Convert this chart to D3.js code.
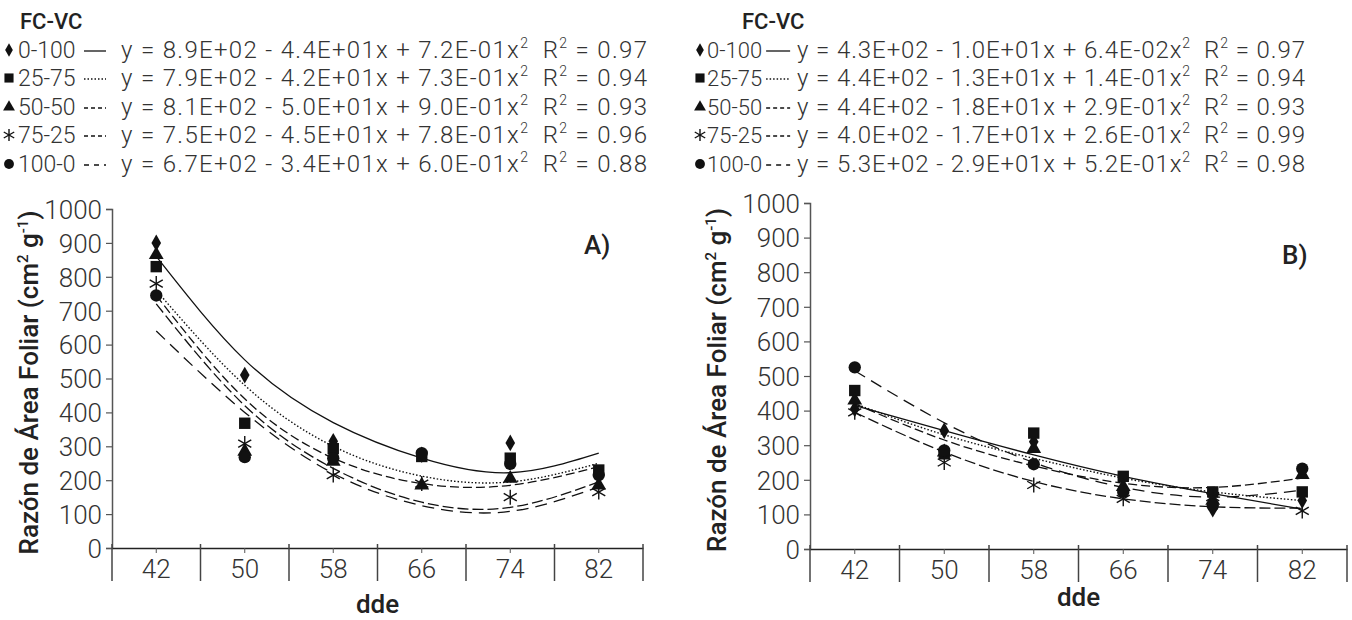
<!DOCTYPE html>
<html><head><meta charset="utf-8">
<script src="https://cdn.jsdelivr.net/npm/d3@7"></script>
<style>
body{margin:0;background:#fff;}
text{font-family:Roboto,"Noto Sans",sans-serif;}
</style></head><body>
<svg id="c" width="1352" height="620"></svg>
<script>
// ---------- DATA ----------
const categories = ["42","50","58","66","74","82"];
const yTicks = [0,100,200,300,400,500,600,700,800,900,1000];
const seriesNames = ["0-100","25-75","50-50","75-25","100-0"];
const markers = ["diamond","square","triangle","asterisk","circle"];

// Panel A observed values
const A_0_100  = [900, 510, 315, 275, 310, 215];
const A_25_75  = [830, 368, 293, 270, 265, 230];
const A_50_50  = [865, 285, 255, 185, 205, 185];
const A_75_25  = [780, 308, 215, 190, 150, 165];
const A_100_0  = [745, 268, 265, 280, 248, 215];
// Panel A trend lines (read at each dde)
const A_fit_0_100 = [860, 555, 370, 265, 222, 280];
const A_fit_25_75 = [760, 480, 300, 212, 195, 250];
const A_fit_50_50 = [745, 440, 265, 190, 185, 240];
const A_fit_75_25 = [720, 420, 235, 135, 120, 195];
const A_fit_100_0 = [640, 400, 220, 125, 108, 180];
const A_eqs = [
  ["y = 8.9E+02 - 4.4E+01x + 7.2E-01x","R","= 0.97"],
  ["y = 7.9E+02 - 4.2E+01x + 7.3E-01x","R","= 0.94"],
  ["y = 8.1E+02 - 5.0E+01x + 9.0E-01x","R","= 0.93"],
  ["y = 7.5E+02 - 4.5E+01x + 7.8E-01x","R","= 0.96"],
  ["y = 6.7E+02 - 3.4E+01x + 6.0E-01x","R","= 0.88"]
];

// Panel B observed values
const B_0_100  = [405, 342, 310, 170, 115, 140];
const B_25_75  = [458, 275, 335, 210, 165, 165];
const B_50_50  = [430, 280, 290, 180, 140, 215];
const B_75_25  = [395, 250, 185, 145, 150, 110];
const B_100_0  = [525, 285, 245, 165, 125, 232];
// Panel B trend lines
const B_fit_0_100 = [415, 342, 272, 210, 160, 115];
const B_fit_25_75 = [420, 330, 262, 205, 165, 140];
const B_fit_50_50 = [420, 315, 240, 190, 178, 205];
const B_fit_75_25 = [395, 280, 195, 145, 122, 118];
const B_fit_100_0 = [515, 365, 250, 178, 150, 170];
const B_eqs = [
  ["y = 4.3E+02 - 1.0E+01x + 6.4E-02x","R","= 0.97"],
  ["y = 4.4E+02 - 1.3E+01x + 1.4E-01x","R","= 0.94"],
  ["y = 4.4E+02 - 1.8E+01x + 2.9E-01x","R","= 0.93"],
  ["y = 4.0E+02 - 1.7E+01x + 2.6E-01x","R","= 0.99"],
  ["y = 5.3E+02 - 2.9E+01x + 5.2E-01x","R","= 0.98"]
];

const dashes = [null, "1.5,2", "9,4", "11,4", "12,7"];
const legendDashes = [null, "1.5,2", "4,3", "4,3", "5,5"];

// ---------- DRAW ----------
const svg = d3.select("#c");
const TXT = "#333";
const FS = 26;

function marker(g, type, x, y, s){
  s = s || 1;
  if(type==="asterisk"){
    const r = 7.5*s;
    const a = g.append("g").attr("transform",`translate(${x},${y})`)
      .attr("stroke","#111").attr("stroke-width",1.4);
    a.append("line").attr("x1",0).attr("x2",0).attr("y1",-r).attr("y2",r);
    a.append("line").attr("x1",-r*0.87).attr("x2",r*0.87).attr("y1",-r*0.5).attr("y2",r*0.5);
    a.append("line").attr("x1",-r*0.87).attr("x2",r*0.87).attr("y1",r*0.5).attr("y2",-r*0.5);
    return;
  }
  const map = {diamond:d3.symbolDiamond, square:d3.symbolSquare, triangle:d3.symbolTriangle, circle:d3.symbolCircle};
  const size = {diamond:80, square:130, triangle:95, circle:120}[type]*s*s;
  g.append("path").attr("d", d3.symbol().type(map[type]).size(size)())
    .attr("transform",`translate(${x},${y})`).attr("fill","#111");
}

function panel(cfg){
  const g = svg.append("g");
  const x = d3.scaleBand().domain(categories).range([cfg.x0, cfg.x1]);
  const y = d3.scaleLinear().domain([0,1000]).range([cfg.y0, cfg.y1]);
  const cx = c => x(c) + x.bandwidth()/2;

  // y axis
  const ya = g.append("g").attr("transform",`translate(${cfg.x0},0)`)
    .call(d3.axisLeft(y).tickValues(yTicks).tickSize(6).tickPadding(4).tickFormat(d3.format("d")));
  ya.select(".domain").attr("stroke","#555").attr("stroke-width",1.5);
  ya.selectAll(".tick line").attr("stroke","#555").attr("stroke-width",1.2);
  ya.selectAll("text").attr("font-size",FS).attr("font-weight",300).attr("fill",TXT).attr("dy","0.36em");

  // x axis
  const xa = g.append("g").attr("transform",`translate(0,${cfg.y0})`)
    .call(d3.axisBottom(x).tickSize(5).tickPadding(4).tickSizeOuter(0));
  xa.select(".domain").attr("stroke","#222").attr("stroke-width",1.5);
  xa.selectAll(".tick line").attr("stroke","#555");
  xa.selectAll("text").attr("font-size",FS).attr("font-weight",300).attr("fill",TXT).attr("dy","0.8em");
  // band boundary ticks
  const bounds = categories.map(c => x(c)).concat([cfg.x1]);
  g.selectAll(".bnd").data(bounds).enter().append("line")
    .attr("x1",d=>d).attr("x2",d=>d).attr("y1",cfg.y0-4).attr("y2",cfg.y0+33)
    .attr("stroke","#444").attr("stroke-width",1.5);

  // trend lines
  const line = d3.line().x((d,i)=>cx(categories[i])).y(d=>y(d)).curve(d3.curveNatural);
  cfg.fits.forEach((f,i)=>{
    g.append("path").attr("d",line(f)).attr("fill","none").attr("stroke","#111")
      .attr("stroke-width", i===1?1.4:1.3).attr("stroke-dasharray",dashes[i]);
  });
  // markers
  cfg.obs.forEach((arr,i)=>{
    arr.forEach((v,j)=> marker(g, markers[i], cx(categories[j]), y(v)));
  });

  // axis titles
  const yt = g.append("text").attr("transform",`translate(${cfg.ytx},${(cfg.y0+cfg.y1)/2+4}) rotate(-90)`)
    .attr("text-anchor","middle").attr("font-size",FS).attr("font-weight",500).attr("fill","#222");
  yt.append("tspan").text("Razón de Área Foliar (cm");
  yt.append("tspan").text("2").attr("font-size",15).attr("dy",-10);
  yt.append("tspan").text(" g").attr("font-size",FS).attr("dy",10);
  yt.append("tspan").text("-1").attr("font-size",15).attr("dy",-10);
  yt.append("tspan").text(")").attr("font-size",FS).attr("dy",10);

  g.append("text").attr("x",(cfg.x0+cfg.x1)/2).attr("y",cfg.xty).attr("text-anchor","middle")
    .attr("font-size",FS).attr("font-weight",500).attr("fill","#222").text("dde");

  g.append("text").attr("x",cfg.lblx).attr("y",cfg.lbly).attr("font-size",FS).attr("font-weight",500)
    .attr("fill","#222").text(cfg.label);

  // legend
  const L = cfg.leg;
  g.append("text").attr("x",L.title).attr("y",29).attr("font-size",22).attr("font-weight",500)
    .attr("fill","#222").text("FC-VC");
  const rows = [50,78,107,135,164];
  seriesNames.forEach((n,i)=>{
    const ry = rows[i];
    marker(g, markers[i], L.mk, ry, 0.8);
    const nt = g.append("text").attr("x",L.name).attr("y",ry+8).attr("font-size",L.nfs).attr("font-weight",300)
      .attr("fill",TXT).text(n);
    let l0 = L.l0, l1 = L.l1;
    if(L.follow){ const e = L.name + nt.node().getComputedTextLength(); l0 = e+4; l1 = Math.min(e+28, L.eq-6); }
    g.append("line").attr("x1",l0).attr("x2",l1).attr("y1",ry+1).attr("y2",ry+1)
      .attr("stroke","#111").attr("stroke-width",1.3).attr("stroke-dasharray",legendDashes[i]);
    const t = g.append("text").attr("x",L.eq).attr("y",ry+8).attr("font-size",24)
      .attr("font-weight",300).attr("fill",TXT)
      .attr("textLength",L.len).attr("lengthAdjust","spacing");
    const e = cfg.eqs[i];
    t.append("tspan").text(e[0]);
    t.append("tspan").text("2").attr("font-size",14).attr("dy",-10);
    t.append("tspan").text("\u2002R").attr("dy",10);
    t.append("tspan").text("2").attr("font-size",14).attr("dy",-10);
    t.append("tspan").text(" "+e[2]).attr("dy",10);
  });
}

panel({x0:112, x1:643, y0:548, y1:209, ytx:38, xty:613, label:"A)", lblx:584, lbly:254,
  obs:[A_0_100,A_25_75,A_50_50,A_75_25,A_100_0],
  fits:[A_fit_0_100,A_fit_25_75,A_fit_50_50,A_fit_75_25,A_fit_100_0],
  eqs:A_eqs, leg:{title:20, mk:9, name:18, nfs:23, l0:84, l1:106, eq:121, len:526}});
panel({x0:810, x1:1347, y0:549, y1:203, ytx:726, xty:606, label:"B)", lblx:1282, lbly:264,
  obs:[B_0_100,B_25_75,B_50_50,B_75_25,B_100_0],
  fits:[B_fit_0_100,B_fit_25_75,B_fit_50_50,B_fit_75_25,B_fit_100_0],
  eqs:B_eqs, leg:{title:742, mk:700, name:707, nfs:22, follow:true, eq:797, len:508}});
</script></body></html>
